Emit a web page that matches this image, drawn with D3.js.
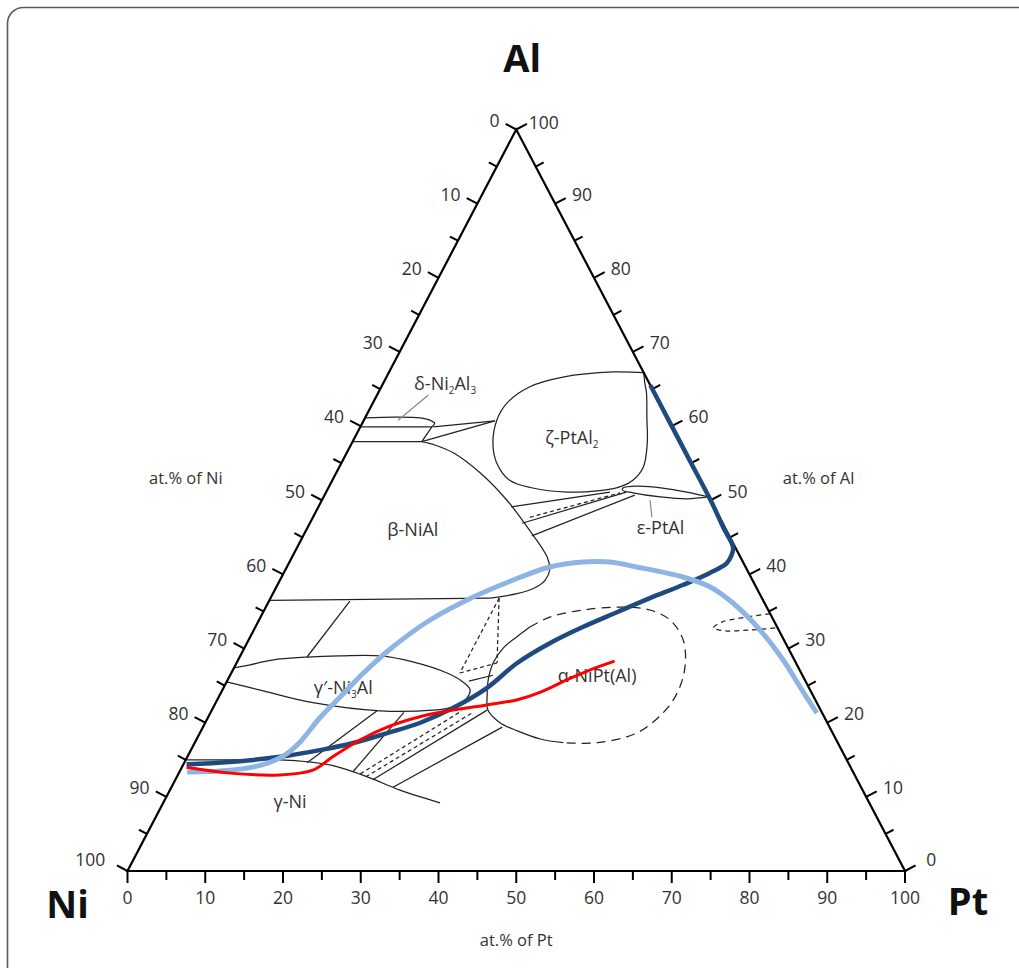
<!DOCTYPE html>
<html><head><meta charset="utf-8">
<script src="https://cdn.jsdelivr.net/npm/d3@7"></script>
<style>body{margin:0;background:#fff}svg{display:block}text{font-family:"Open Sans","Noto Sans",sans-serif}</style>
</head><body>
<svg id="c" width="1019" height="968"></svg>
<script>
// ---------- DATA (compositions as [Pt at.%, Al at.%]) ----------
const tickValues = d3.range(0, 101, 5);
const tickLabels = ["0","10","20","30","40","50","60","70","80","90","100"];
const cornerNames = ["Ni","Pt","Al"];
const axisTitles = ["at.% of Ni","at.% of Al","at.% of Pt"];

const darkBlue = [[34.5,65.5],[40,60],[45,55],[50,50],[53.5,46.3],[56.1,43.6],[56.4,42.5],[56.3,41.5],[54.8,40.2],[52.2,38.6],[48.8,36.8],[45.5,34.9],[42.1,32.9],[39.0,30.75],[36.1,28.05],[33.9,24.7],[30.9,22.0],[27.6,19.96],[24.1,18.6],[20.4,17.26],[16.6,16.3],[11.9,15.4],[5.8,14.7],[0.4,14.4]];
const lightBlue = [[1.0,13.35],[6.4,13.6],[10.15,14.3],[12.4,15.64],[13.5,17.4],[14.4,20.63],[15.6,23.47],[17.2,27.11],[19.0,30.21],[22.0,33.85],[26.0,36.95],[30.0,39.24],[33.8,41.0],[37.8,41.67],[41.2,41.67],[45.0,41.0],[51.6,39.65],[55.8,38.3],[59.8,36.14],[65.1,32.5],[70.1,28.46],[74.1,24.81],[78.0,21.31]];
const redLine = [[0.6,14.0],[6.6,13.2],[13.1,12.95],[17.05,13.6],[18.7,15.4],[21.1,17.7],[23.7,19.4],[27.2,20.8],[31.0,21.7],[35.0,22.4],[38.6,23.1],[41.0,24.1],[43.65,25.8],[45.9,27.1],[48.5,28.3]];

// phase boundaries (smooth)
const deltaLens = [[0,61.1],[3.8,61.2],[7.1,61.1],[8.5,60.8],[9.3,60.4],[9.2,59.9]];
const betaCurve = [[8.9,57.9],[10.8,57.45],[13.7,56.4],[18.5,53.7],[23.8,50.0],[28.2,46.4],[32.8,42.35],[34.0,40.6],[34.1,39.2],[33.3,38.2],[31.4,37.4],[28.2,36.8]];
const zeta = [[32.8,67.2],[28.8,67.3],[22.7,66.6],[19.1,65.3],[17.25,63.1],[17.1,60.8],[18.15,57.7],[20.0,55.0],[22.8,52.7],[26.3,51.65],[31.0,51.1],[34.8,51.25],[37.4,51.8],[38.65,52.7],[39.1,54.5],[38.0,57.7],[36.2,61.2],[34.5,64.5],[33.7,65.7],[32.8,67.2]];
const epsilon = [[49.5,50.45],[46.4,51.1],[43.0,51.65],[39.6,51.9],[37.9,51.65],[38.0,51.35],[39.5,51.0],[43.3,50.45],[46.9,50.2],[49.5,50.45]];
const gammaPrime = [[0,27.4],[1.9,27.8],[3.3,28.2],[5.3,28.6],[8.66,28.86],[12.8,29.0],[18.0,29.0],[22.6,28.2],[27.75,26.7],[30.2,25.6],[31.8,24.5],[32.0,23.3],[30.8,22.1],[28.4,21.7],[21.7,21.6],[12.5,22.7],[5.3,24.3],[0,25.5]];
const alphaSolid = [[35.3,32.9],[34.3,31.6],[33.3,30.1],[33.0,28.05],[33.5,25.8],[34.5,23.5],[35.5,21.7],[37.9,20.0],[40.7,18.9],[44.2,17.8],[47.4,17.3]];
const alphaDashed = [[35.3,32.9],[37.2,34.25],[41.0,35.2],[45.9,35.6],[49.6,35.2],[52.85,33.85],[55.9,31.15],[57.95,27.5],[58.7,24.0],[58.2,21.3],[56.2,18.6],[51.8,17.3],[47.4,17.3]];
const smallLoop = [[65.3,34.7],[61.7,34.1],[59.7,33.6],[58.95,32.8],[60.7,32.4],[63.8,32.5],[67.2,32.8]];
const gammaBoundary = [[0,15.0],[5.7,15.0],[12.1,15.0],[16.1,14.7],[19.35,14.2],[24.5,12.7],[29.6,10.9],[35.6,9.2]];

// straight segments / tie lines
const solidTies = [
  [[0,59.9],[9.2,59.9]], [[9.2,59.9],[8.9,57.9]], [[0,57.9],[8.9,57.9]],
  [[9.4,59.9],[16.9,60.7]], [[8.9,57.9],[16.9,60.7]],
  [[28.2,36.8],[0,36.5]],
  [[24.8,49.1],[36.5,51.1]], [[27.3,46.9],[38.6,51.1]], [[29.4,45.2],[39.9,50.7]],
  [[10.4,36.4],[8.66,28.86]],
  [[31.1,25.6],[33.8,26.4]],
  [[15.8,14.6],[21.3,21.6]], [[22.3,13.35],[24.85,21.4]], [[25.4,12.3],[35.4,21.7]], [[28.5,11.3],[38.5,19.4]]
];
const dashedTies = [
  [[27.9,47.7],[37.85,51.0]],
  [[29.4,36.8],[29.4,26.7]], [[29.4,36.8],[33.5,28.05]], [[29.4,26.7],[33.5,28.05]],
  [[23.4,13.1],[32.2,21.6]], [[24.3,12.7],[33.65,21.3]]
];
const leaders = [[[6.6,64.2],[4.4,60.8]], [[42.2,50.0],[43.6,47.7]]];

const phaseLabels = [
  {pos:[8.0,65.7], parts:[["δ-Ni"],["2",1],["Al"],["3",1]]},
  {pos:[27.9,58.5], parts:[["ζ-PtAl"],["2",1]]},
  {pos:[45.4,46.3], parts:[["ε-PtAl"]]},
  {pos:[13.7,46.0], parts:[["β-NiAl"]]},
  {pos:[15.4,24.7], parts:[["γ′-Ni"],["3",1],["Al"]]},
  {pos:[47.2,26.4], parts:[["α-NiPt(Al)"]]},
  {pos:[16.2,9.4], parts:[["γ-Ni"]]}
];

// ---------- DRAWING ----------
const svg = d3.select("#c");
const xS = d3.scaleLinear().domain([0,100]).range([127.5,905]);
const yS = d3.scaleLinear().domain([0,100]).range([871,129.5]);
const px = d => xS(d[0] + d[1]/2), py = d => yS(d[1]);
const smooth = d3.line().x(px).y(py).curve(d3.curveCatmullRom.alpha(0.5));
const straight = d3.line().x(px).y(py);

svg.append("rect").attr("x",7.5).attr("y",7.5).attr("width",1030).attr("height",985)
  .attr("rx",16).attr("fill","none").attr("stroke","#5a5a5a").attr("stroke-width",1.6);

const NI=[0,0], PT=[100,0], AL=[0,100];
const V = c => [px(c), py(c)];

// phase lines
const g = svg.append("g").attr("fill","none").attr("stroke","#222").attr("stroke-width",1.25);
[deltaLens, betaCurve, zeta, epsilon, gammaPrime, alphaSolid, gammaBoundary].forEach(d=>g.append("path").attr("d",smooth(d)));
g.append("path").attr("d",smooth(alphaDashed)).attr("stroke-dasharray","9,6");
g.append("path").attr("d",smooth(smallLoop)).attr("stroke-dasharray","5,4");
solidTies.forEach(d=>g.append("path").attr("d",straight(d)));
dashedTies.forEach(d=>g.append("path").attr("d",straight(d)).attr("stroke-dasharray","4,3"));
leaders.forEach(d=>g.append("path").attr("d",straight(d)).attr("stroke","#8a8a8a"));

// triangle
svg.append("path").attr("d",straight([NI,PT,AL,NI])+"Z").attr("fill","none")
  .attr("stroke","#000").attr("stroke-width",2.2).attr("stroke-linejoin","miter");

// ticks
function normal(a,b){const A=V(a),B=V(b);const dx=B[0]-A[0],dy=B[1]-A[1];const L=Math.hypot(dx,dy);return [-dy/L,dx/L];}
const sides = [
  {comp:v=>[v,0], n:normal(NI,PT), anchor:"middle", side:"b"},
  {comp:v=>[100-v,v], n:normal(PT,AL), anchor:"start", side:"r"},
  {comp:v=>[0,100-v], n:normal(AL,NI), anchor:"end", side:"l"}
];
const tg = svg.append("g");
sides.forEach(s=>{
  tickValues.forEach(v=>{
    const major = v%10===0;
    const len = major?12:9;
    const p = V(s.comp(v));
    const e = [p[0]+s.n[0]*len, p[1]+s.n[1]*len];
    tg.append("line").attr("x1",p[0]).attr("y1",p[1]).attr("x2",e[0]).attr("y2",e[1])
      .attr("stroke","#000").attr("stroke-width",2);
    if(major){
      const lab = tickLabels[v/10];
      let gap = 7;
      if(s.side==="l" && v===100) gap=13;
      if(s.side==="r" && v===0) gap=12;
      if(s.side==="r" && v===100) gap=2;
      const t = tg.append("text").text(lab).attr("fill","#333").attr("font-size",17.5).attr("text-anchor",s.anchor);
      if(s.side==="b"){ t.attr("x",e[0]).attr("y",e[1]+21); }
      else { t.attr("x",e[0]+s.n[0]*gap).attr("y",e[1]+s.n[1]*gap).attr("dy","0.35em"); }
    }
  });
});

// corner labels
const corners=[NI,PT,AL];
const cornerOff=[[-60,47],[63,44],[6,-58]];
corners.forEach((c,i)=>{
  const p=V(c);
  svg.append("text").text(cornerNames[i]).attr("x",p[0]+cornerOff[i][0]).attr("y",p[1]+cornerOff[i][1])
    .attr("text-anchor","middle").attr("font-size",38).attr("font-weight",700).attr("fill","#111");
});

// axis titles
const midL=V([0,50]), midR=V([50,50]), midB=V([50,0]);
svg.append("text").text(axisTitles[0]).attr("x",midL[0]-136).attr("y",midL[1]-16).attr("text-anchor","middle").attr("font-size",16.5).attr("fill","#333");
svg.append("text").text(axisTitles[1]).attr("x",midR[0]+108).attr("y",midR[1]-16).attr("text-anchor","middle").attr("font-size",16.5).attr("fill","#333");
svg.append("text").text(axisTitles[2]).attr("x",midB[0]).attr("y",midB[1]+75).attr("text-anchor","middle").attr("font-size",16.5).attr("fill","#333");

// phase labels
phaseLabels.forEach(L=>{
  const t=svg.append("text").attr("x",px(L.pos)).attr("y",py(L.pos)+6.5).attr("text-anchor","middle")
    .attr("font-size",18).attr("fill","#333");
  let sub=false;
  L.parts.forEach(pt=>{
    const isSub=!!pt[1];
    const ts=t.append("tspan").text(pt[0]);
    if(isSub&&!sub){ts.attr("dy",4).attr("font-size",10);}
    else if(isSub&&sub){ts.attr("font-size",10);}
    else if(!isSub&&sub){ts.attr("dy",-4);}
    sub=isSub;
  });
});

// measured curves
const cg = svg.append("g").attr("fill","none").attr("stroke-linecap","butt").attr("stroke-linejoin","round");
cg.append("path").attr("d",smooth(darkBlue)).attr("stroke","#1f4a7f").attr("stroke-width",4.5);
cg.append("path").attr("d",smooth(lightBlue)).attr("stroke","#8db4e3").attr("stroke-width",5);
cg.append("path").attr("d",smooth(redLine)).attr("stroke","#ff0000").attr("stroke-width",3);
</script>
</body></html>
